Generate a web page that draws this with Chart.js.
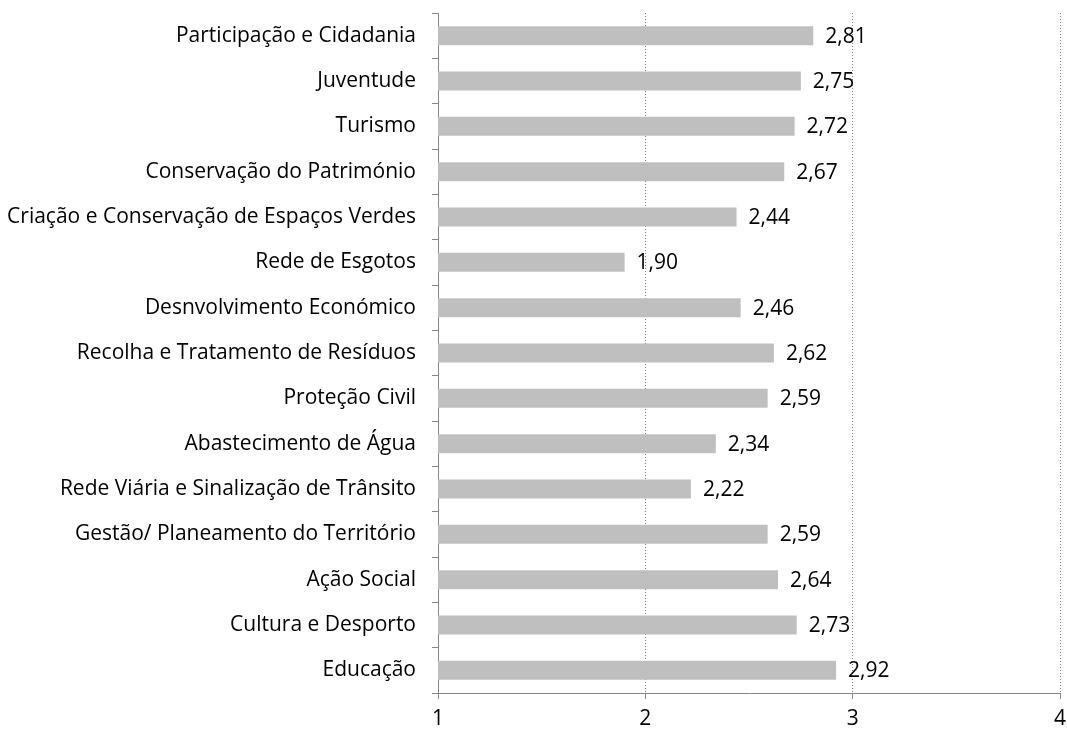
<!DOCTYPE html>
<html>
<head>
<meta charset="utf-8">
<script src="https://cdn.jsdelivr.net/npm/chart.js@4"></script>
<style>
  html, body { margin: 0; padding: 0; background: #fff; }
  #wrap { width: 1067px; height: 733px; }
</style>
</head>
<body>
<div id="wrap"><canvas id="chart"></canvas></div>
<script>
const categories = [
    'Participação e Cidadania',
    'Juventude',
    'Turismo',
    'Conservação do Património',
    'Criação e Conservação de Espaços Verdes',
    'Rede de Esgotos',
    'Desnvolvimento Económico',
    'Recolha e Tratamento de Resíduos',
    'Proteção Civil',
    'Abastecimento de Água',
    'Rede Viária e Sinalização de Trânsito',
    'Gestão/ Planeamento do Território',
    'Ação Social',
    'Cultura e Desporto',
    'Educação'
];
const scores = [2.81, 2.75, 2.72, 2.67, 2.44, 1.90, 2.46, 2.62, 2.59, 2.34, 2.22, 2.59, 2.64, 2.73, 2.92];
const xTicks = [1, 2, 3, 4];

const fontFamily = '"Open Sans", "Liberation Sans", sans-serif';
const fontSize = 21;

// value labels to the right of each bar
const valueLabels = {
    id: 'valueLabels',
    afterDatasetsDraw(chart) {
        const ctx = chart.ctx;
        const meta = chart.getDatasetMeta(0);
        ctx.save();
        ctx.font = fontSize + 'px ' + fontFamily;
        ctx.fillStyle = '#000';
        ctx.textAlign = 'left';
        ctx.textBaseline = 'middle';
        meta.data.forEach(function(bar, i) {
            const txt = scores[i].toFixed(2).replace('.', ',');
            ctx.fillText(txt, bar.x + 12, bar.y + 1);
        });
        ctx.restore();
    }
};

new Chart(document.getElementById('chart'), {
    type: 'bar',
    data: {
        labels: categories,
        datasets: [{
            data: scores,
            backgroundColor: '#BFBFBF',
            barPercentage: 0.42,
            categoryPercentage: 1
        }]
    },
    options: {
        indexAxis: 'y',
        responsive: true,
        maintainAspectRatio: false,
        animation: false,
        layout: { padding: { top: 13, right: 7, left: 0, bottom: 0 } },
        plugins: {
            legend: { display: false },
            tooltip: { enabled: false }
        },
        scales: {
            x: {
                min: 1,
                max: 4,
                afterBuildTicks: function(scale) {
                    scale.ticks = xTicks.map(v => ({ value: v }));
                },
                afterFit: function(scale) {
                    scale.height = 40;
                    scale.paddingLeft = 0;
                    scale.paddingRight = 0;
                },
                grid: {
                    color: ctx => ctx.tick && ctx.tick.value === 1 ? 'rgba(0,0,0,0)' : '#7a7a7a',
                    tickColor: '#868686',
                    tickLength: 6,
                    tickBorderDash: [],
                    lineWidth: 1
                },
                border: { color: '#868686', dash: [1, 2] },
                ticks: {
                    color: '#000',
                    padding: 7,
                    maxRotation: 0,
                    font: { family: fontFamily, size: fontSize }
                }
            },
            y: {
                afterFit: function(scale) {
                    scale.width = 438;
                    scale.paddingTop = 0;
                    scale.paddingBottom = 0;
                },
                grid: {
                    offset: true,
                    drawOnChartArea: false,
                    tickColor: '#868686',
                    tickLength: 6
                },
                border: { color: '#868686' },
                ticks: {
                    color: '#000',
                    padding: 16,
                    autoSkip: false,
                    font: { family: fontFamily, size: fontSize }
                }
            }
        }
    },
    plugins: [valueLabels]
});
</script>
</body>
</html>
